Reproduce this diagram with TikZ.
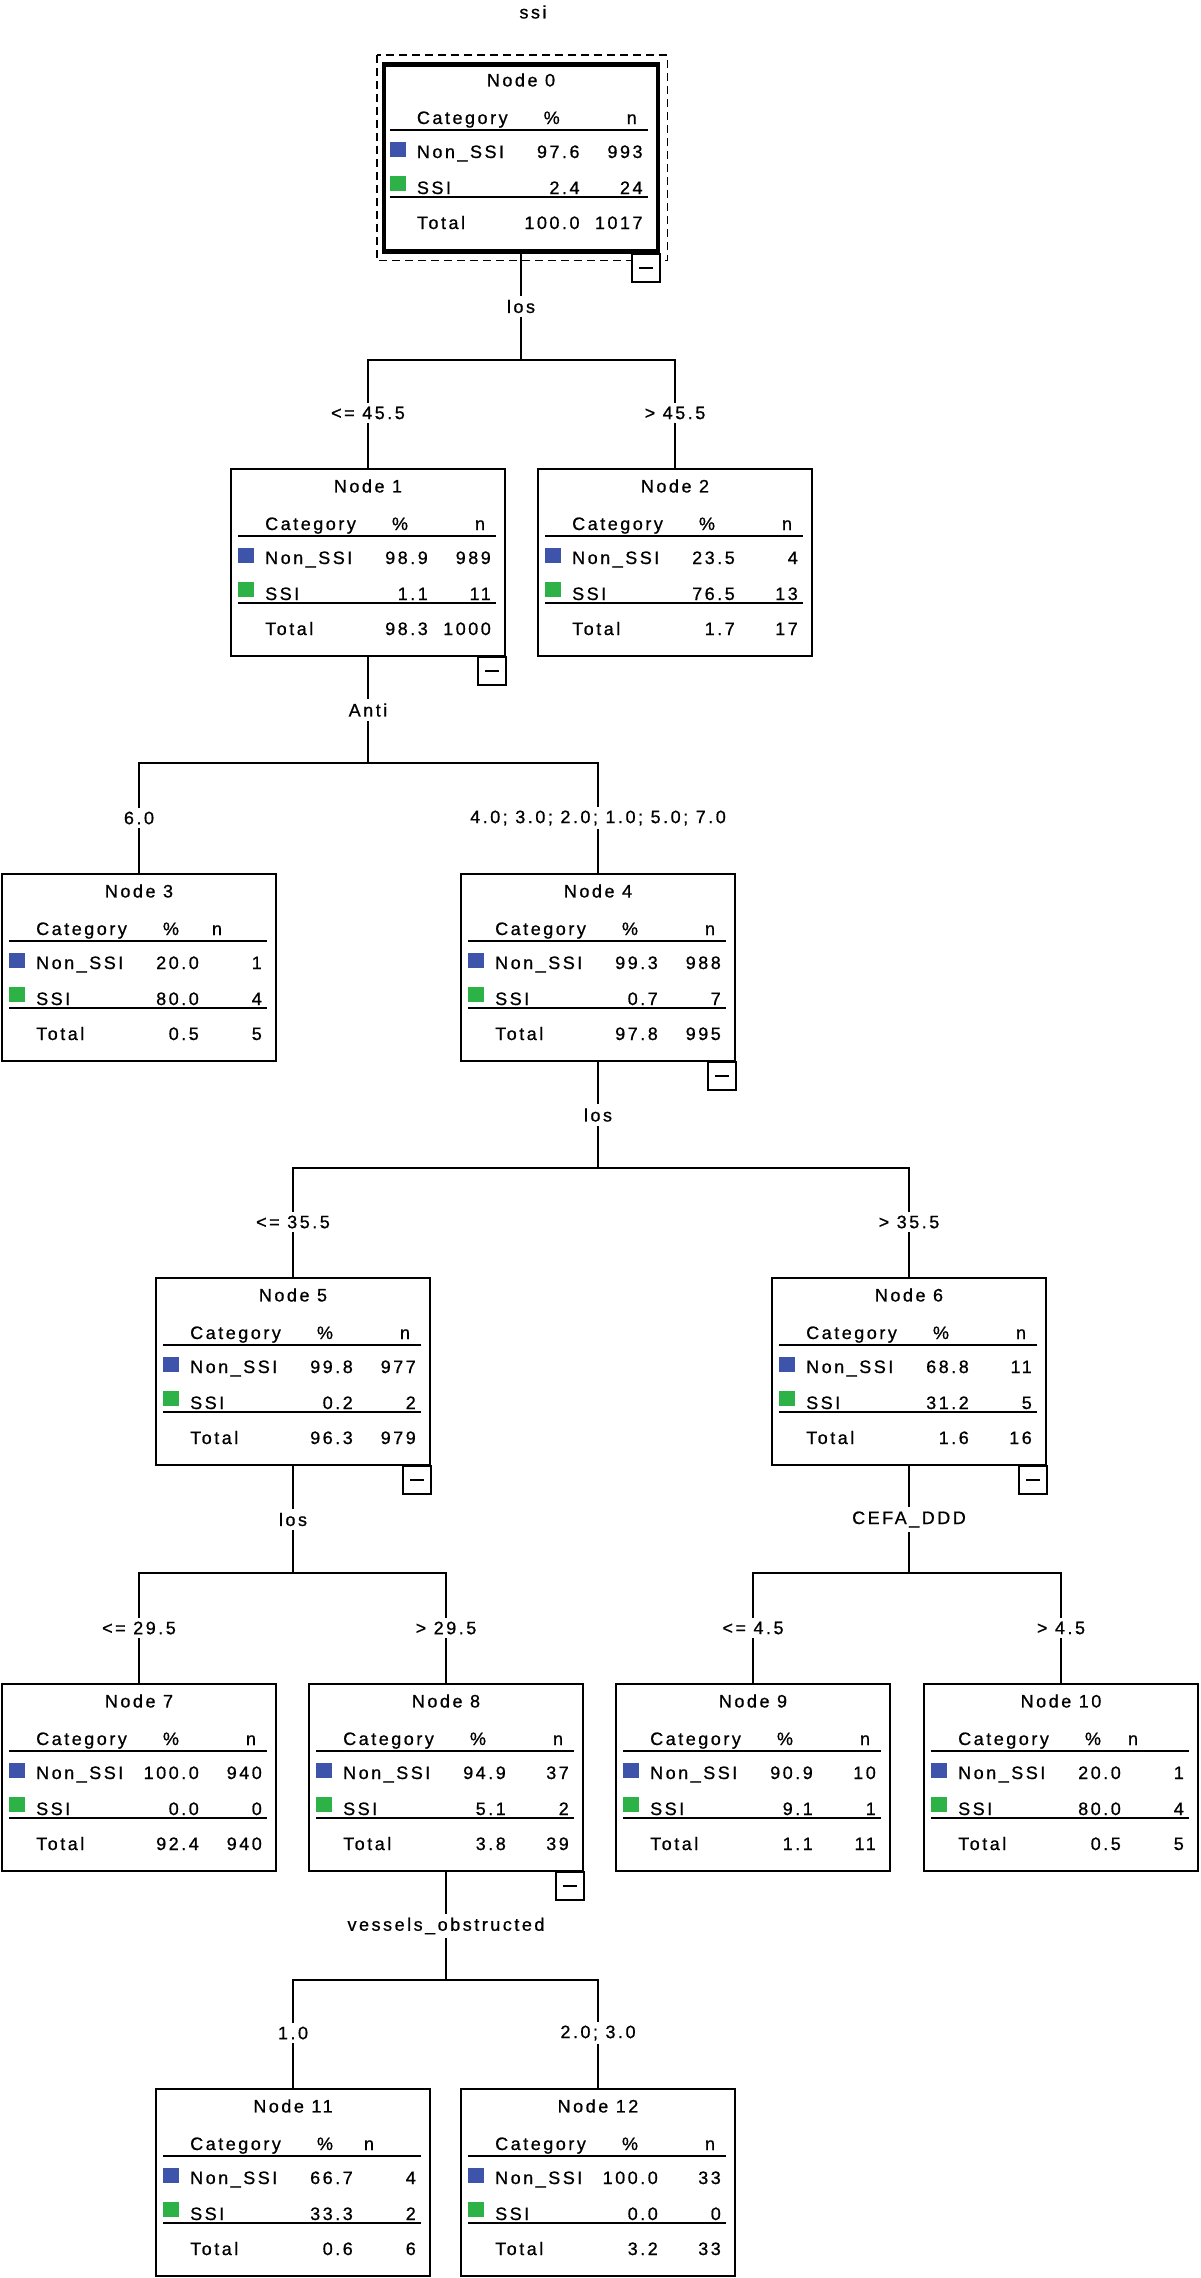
\documentclass[tikz,border=0pt]{standalone}
\usepackage{fontspec}
\setmainfont{Liberation Sans}[LetterSpace=14,FakeBold=0.8]
\usetikzlibrary{calc}
\definecolor{cblue}{RGB}{62,84,170}
\definecolor{cgreen}{RGB}{45,178,72}
\tikzset{
 box/.style={draw, line width=2pt, minimum width=274pt, minimum height=187pt, inner sep=0pt, anchor=north},
 txt/.style={font=\fontsize{18}{20}\selectfont, inner sep=0pt},
 lbl/.style={font=\fontsize{18}{20}\selectfont, fill=white, inner sep=4pt},
 conn/.style={line width=2pt},
 rule/.style={line width=2pt},
}
% #1 name, #2 number, #3 non pct, #4 non n, #5 ssi pct, #6 ssi n, #7 tot pct, #8 tot n, #9 x of n header
\newcommand\tnode[9]{%
 \node[txt] (#1t) at ($(#1.north)+(0,18)$) {Node #2};
 \node[txt,anchor=base west] (#1hc) at ($(#1.north west)+(35,62)$) {Category};
 \node[txt,anchor=base] (#1hp) at ($(#1.north west)+(170,62)$) {\%};
 \node[txt,anchor=base] (#1hn) at ($(#1.north west)+(#9,62)$) {n};
 \draw[rule] ($(#1.north west)+(8,68)$) -- ($(#1.north west)+(266,68)$);
 \fill[cblue] ($(#1.north west)+(8,80)$) rectangle ($(#1.north west)+(24,95)$);
 \node[txt,anchor=base west] (#1a) at ($(#1.north west)+(35,96)$) {Non\_SSI};
 \node[txt,anchor=base east] (#1ap) at ($(#1.north west)+(198,96)$) {#3};
 \node[txt,anchor=base east] (#1an) at ($(#1.north west)+(261,96)$) {#4};
 \fill[cgreen] ($(#1.north west)+(8,114)$) rectangle ($(#1.north west)+(24,129)$);
 \node[txt,anchor=base west] (#1b) at ($(#1.north west)+(35,132)$) {SSI};
 \node[txt,anchor=base east] (#1bp) at ($(#1.north west)+(198,132)$) {#5};
 \node[txt,anchor=base east] (#1bn) at ($(#1.north west)+(261,132)$) {#6};
 \draw[rule] ($(#1.north west)+(8,135)$) -- ($(#1.north west)+(266,135)$);
 \node[txt,anchor=base west] (#1c) at ($(#1.north west)+(35,167)$) {Total};
 \node[txt,anchor=base east] (#1cp) at ($(#1.north west)+(198,167)$) {#7};
 \node[txt,anchor=base east] (#1cn) at ($(#1.north west)+(261,167)$) {#8};
}
\newcommand\minusbox[1]{%
 \draw[rule,fill=white] ($(#1.south east)+(-28,0)$) rectangle ($(#1.south east)+(0,28)$);
 \draw[rule] ($(#1.south east)+(-21,14)$) -- ($(#1.south east)+(-7,14)$);
}
\begin{document}
\begin{tikzpicture}[x=1pt,y=-1pt]
\useasboundingbox[fill=white] (0,0) rectangle (1200,2278);
\node[txt] (title) at (533,12) {ssi};
% boxes
\node[box, line width=4.5pt] (n0) at (521,62) {};
\node[box] (n1) at (368,468) {};
\node[box] (n2) at (675,468) {};
\node[box] (n3) at (139,873) {};
\node[box] (n4) at (598,873) {};
\node[box] (n5) at (293,1277) {};
\node[box] (n6) at (909,1277) {};
\node[box] (n7) at (139,1683) {};
\node[box] (n8) at (446,1683) {};
\node[box] (n9) at (753,1683) {};
\node[box] (n10) at (1061,1683) {};
\node[box] (n11) at (293,2088) {};
\node[box] (n12) at (598,2088) {};
\draw[line width=1.5pt, dash pattern=on 8pt off 5pt] ($(n0.north west)+(-5,-7)$) rectangle ($(n0.south east)+(7,7)$);
% connectors
\draw[conn] (n0.south) -- ++(0,106) coordinate (j0);
\draw[conn] (j0) -| (n1.north); \draw[conn] (j0) -| (n2.north);
\draw[conn] (n1.south) -- ++(0,106) coordinate (j1);
\draw[conn] (j1) -| (n3.north); \draw[conn] (j1) -| (n4.north);
\draw[conn] (n4.south) -- ++(0,106) coordinate (j4);
\draw[conn] (j4) -| (n5.north); \draw[conn] (j4) -| (n6.north);
\draw[conn] (n5.south) -- ++(0,107) coordinate (j5);
\draw[conn] (j5) -| (n7.north); \draw[conn] (j5) -| (n8.north);
\draw[conn] (n6.south) -- ++(0,107) coordinate (j6);
\draw[conn] (j6) -| (n9.north); \draw[conn] (j6) -| (n10.north);
\draw[conn] (n8.south) -- ++(0,108) coordinate (j8);
\draw[conn] (j8) -| (n11.north); \draw[conn] (j8) -| (n12.north);
% labels
\node[lbl] (l0) at ($(n0.south)!0.5!(j0)$) {los};
\node[lbl] (l1) at ($(n1.north)+(0,-55)$) {<= 45.5};
\node[lbl] (l2) at ($(n2.north)+(0,-55)$) {> 45.5};
\node[lbl] (l1s) at ($(n1.south)!0.5!(j1)$) {Anti};
\node[lbl] (l3) at ($(n3.north)+(0,-55)$) {6.0};
\node[lbl] (l4) at ($(n4.north)+(0,-55)$) {4.0; 3.0; 2.0; 1.0; 5.0; 7.0};
\node[lbl] (l4s) at ($(n4.south)!0.5!(j4)$) {los};
\node[lbl] (l5) at ($(n5.north)+(0,-55)$) {<= 35.5};
\node[lbl] (l6) at ($(n6.north)+(0,-55)$) {> 35.5};
\node[lbl] (l5s) at ($(n5.south)!0.5!(j5)$) {los};
\node[lbl] (l7) at ($(n7.north)+(0,-55)$) {<= 29.5};
\node[lbl] (l8) at ($(n8.north)+(0,-55)$) {> 29.5};
\node[lbl] (l6s) at ($(n6.south)!0.5!(j6)$) {CEFA\_DDD};
\node[lbl] (l9) at ($(n9.north)+(0,-55)$) {<= 4.5};
\node[lbl] (l10) at ($(n10.north)+(0,-55)$) {> 4.5};
\node[lbl] (l8s) at ($(n8.south)!0.5!(j8)$) {vessels\_obstructed};
\node[lbl] (l11) at ($(n11.north)+(0,-55)$) {1.0};
\node[lbl] (l12) at ($(n12.north)+(0,-55)$) {2.0; 3.0};
% tables
\tnode{n0}{0}{97.6}{993}{2.4}{24}{100.0}{1017}{250}
\tnode{n1}{1}{98.9}{989}{1.1}{11}{98.3}{1000}{250}
\tnode{n2}{2}{23.5}{4}{76.5}{13}{1.7}{17}{250}
\tnode{n3}{3}{20.0}{1}{80.0}{4}{0.5}{5}{216}
\tnode{n4}{4}{99.3}{988}{0.7}{7}{97.8}{995}{250}
\tnode{n5}{5}{99.8}{977}{0.2}{2}{96.3}{979}{250}
\tnode{n6}{6}{68.8}{11}{31.2}{5}{1.6}{16}{250}
\tnode{n7}{7}{100.0}{940}{0.0}{0}{92.4}{940}{250}
\tnode{n8}{8}{94.9}{37}{5.1}{2}{3.8}{39}{250}
\tnode{n9}{9}{90.9}{10}{9.1}{1}{1.1}{11}{250}
\tnode{n10}{10}{20.0}{1}{80.0}{4}{0.5}{5}{210}
\tnode{n11}{11}{66.7}{4}{33.3}{2}{0.6}{6}{214}
\tnode{n12}{12}{100.0}{33}{0.0}{0}{3.2}{33}{250}
% collapse markers
\minusbox{n0}
\minusbox{n1}
\minusbox{n4}
\minusbox{n5}
\minusbox{n6}
\minusbox{n8}
\end{tikzpicture}
\end{document}
